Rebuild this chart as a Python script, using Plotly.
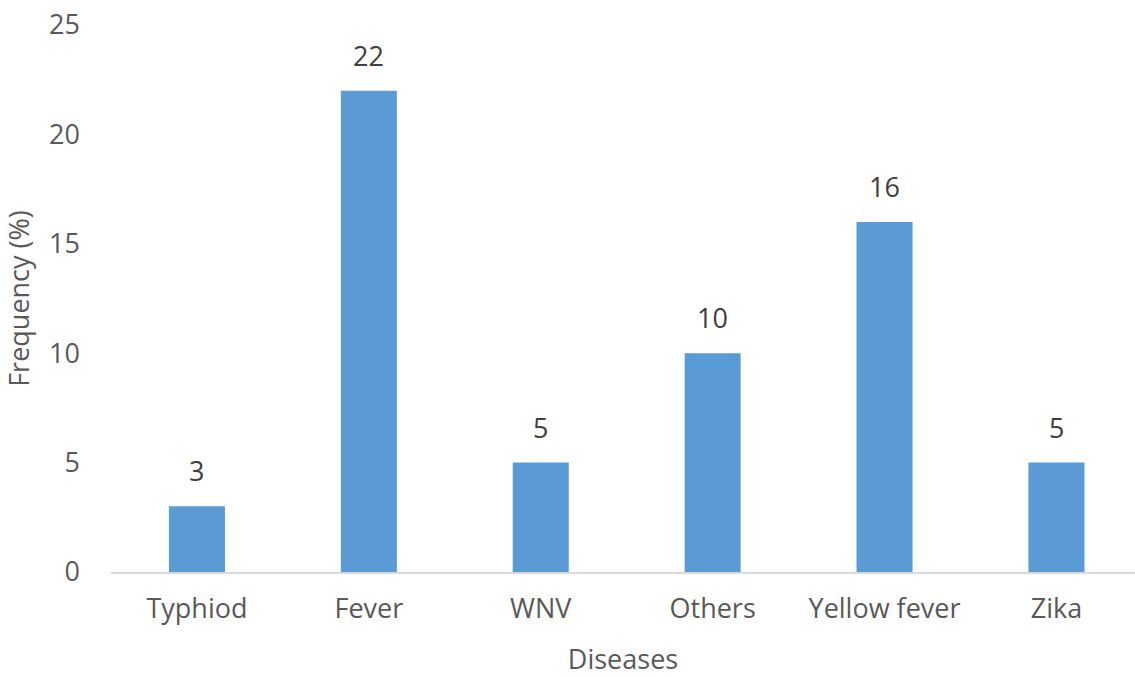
import plotly.graph_objects as go

categories = ["Typhiod", "Fever", "WNV", "Others", "Yellow fever", "Zika"]
values = [3, 22, 5, 10, 16, 5]
y_ticks = [0, 5, 10, 15, 20, 25]

BAR = "#5B9BD5"
TXT = "#595959"
FONT = "Open Sans, Noto Sans, sans-serif"
FS = 27

fig = go.Figure()
fig.add_trace(go.Bar(x=categories, y=values, marker=dict(color=BAR, line=dict(width=0)),
                     width=0.326, hoverinfo="skip"))

for c, v in zip(categories, values):
    fig.add_annotation(x=c, y=v, text=str(v), showarrow=False, yanchor="bottom",
                       yshift=15, font=dict(family=FONT, size=FS, color="#404040"))

fig.update_layout(
    width=1135, height=677,
    margin=dict(l=111, r=0, t=25, b=105),
    paper_bgcolor="white", plot_bgcolor="white",
    showlegend=False,
    font=dict(family=FONT, size=FS, color=TXT),
    xaxis=dict(
        range=[-0.5, 5.457],
        automargin=False,
        showgrid=False, zeroline=False,
        showline=True, linecolor="#D9D9D9", linewidth=2,
        ticks="", ticklabelstandoff=12,
        tickfont=dict(family=FONT, size=FS, color=TXT),
        title=dict(text="Diseases", font=dict(family=FONT, size=FS, color=TXT), standoff=29),
    ),
    yaxis=dict(
        range=[0, 25],
        automargin=False,
        tickvals=y_ticks,
        ticklabeloverflow="allow",
        showgrid=False, zeroline=False, showline=False,
        ticks="", ticklabelstandoff=30,
        tickfont=dict(family=FONT, size=FS, color=TXT),
        title=dict(text="Frequency (%)", font=dict(family=FONT, size=FS, color=TXT), standoff=13),
    ),
)

fig.write_html("out.html", config={"displayModeBar": False},
               post_script="document.body.style.margin='0';")
